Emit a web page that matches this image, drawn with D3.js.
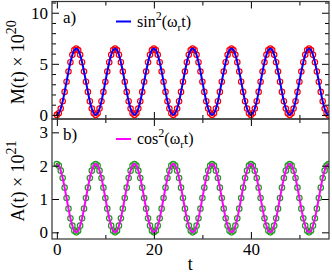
<!DOCTYPE html>
<html>
<head>
<meta charset="utf-8">
<script src="https://cdn.jsdelivr.net/npm/d3@7"></script>
<style>
body { margin: 0; background: #fff; }
svg { display: block; font-family: "Liberation Serif", "DejaVu Serif", serif; }
.axis path { display: none; }
.axis line { stroke: #000; }
.axis text { font-family: "Liberation Serif", serif; font-size: 17px; fill: #000; }
</style>
</head>
<body>
<svg width="332" height="273"></svg>
<script>
let width = 332,
    height = 273;

// sampling step of the data (t units)
let dt = 0.4;

// M(t) x 10^20, circles read from panel a)
let mValues = [
    0.00, 0.16, 0.62, 1.34, 2.25, 3.25, 4.25, 5.16, 5.88, 6.34, 6.50, 6.34, 5.88, 5.16, 4.25, 3.25, 2.25, 1.34, 0.62, 0.16,
    0.00, 0.16, 0.62, 1.34, 2.25, 3.25, 4.25, 5.16, 5.88, 6.34, 6.50, 6.34, 5.88, 5.16, 4.25, 3.25, 2.25, 1.34, 0.62, 0.16,
    0.00, 0.16, 0.62, 1.34, 2.25, 3.25, 4.25, 5.16, 5.88, 6.34, 6.50, 6.34, 5.88, 5.16, 4.25, 3.25, 2.25, 1.34, 0.62, 0.16,
    0.00, 0.16, 0.62, 1.34, 2.25, 3.25, 4.25, 5.16, 5.88, 6.34, 6.50, 6.34, 5.88, 5.16, 4.25, 3.25, 2.25, 1.34, 0.62, 0.16,
    0.00, 0.16, 0.62, 1.34, 2.25, 3.25, 4.25, 5.16, 5.88, 6.34, 6.50, 6.34, 5.88, 5.16, 4.25, 3.25, 2.25, 1.34, 0.62, 0.16,
    0.00, 0.16, 0.62, 1.34, 2.25, 3.25, 4.25, 5.16, 5.88, 6.34, 6.50, 6.34, 5.88, 5.16, 4.25, 3.25, 2.25, 1.34, 0.62, 0.16,
    0.00, 0.16, 0.62, 1.34, 2.25, 3.25, 4.25, 5.16, 5.88, 6.34, 6.50, 6.34, 5.88, 5.16, 4.25, 3.25, 2.25, 1.34, 0.62, 0.16,
    0.00
];

// A(t) x 10^21, circles read from panel b)
let aValues = [
    2.05, 2.00, 1.85, 1.63, 1.34, 1.03, 0.71, 0.42, 0.20, 0.05, 0.00, 0.05, 0.20, 0.42, 0.71, 1.03, 1.34, 1.63, 1.85, 2.00,
    2.05, 2.00, 1.85, 1.63, 1.34, 1.03, 0.71, 0.42, 0.20, 0.05, 0.00, 0.05, 0.20, 0.42, 0.71, 1.03, 1.34, 1.63, 1.85, 2.00,
    2.05, 2.00, 1.85, 1.63, 1.34, 1.03, 0.71, 0.42, 0.20, 0.05, 0.00, 0.05, 0.20, 0.42, 0.71, 1.03, 1.34, 1.63, 1.85, 2.00,
    2.05, 2.00, 1.85, 1.63, 1.34, 1.03, 0.71, 0.42, 0.20, 0.05, 0.00, 0.05, 0.20, 0.42, 0.71, 1.03, 1.34, 1.63, 1.85, 2.00,
    2.05, 2.00, 1.85, 1.63, 1.34, 1.03, 0.71, 0.42, 0.20, 0.05, 0.00, 0.05, 0.20, 0.42, 0.71, 1.03, 1.34, 1.63, 1.85, 2.00,
    2.05, 2.00, 1.85, 1.63, 1.34, 1.03, 0.71, 0.42, 0.20, 0.05, 0.00, 0.05, 0.20, 0.42, 0.71, 1.03, 1.34, 1.63, 1.85, 2.00,
    2.05, 2.00, 1.85, 1.63, 1.34, 1.03, 0.71, 0.42, 0.20, 0.05, 0.00, 0.05, 0.20, 0.42, 0.71, 1.03, 1.34, 1.63, 1.85, 2.00,
    2.05
];

let xMajor = [0, 20, 40],
    xMinor = [10, 30, 50],
    mMajor = [0, 5, 10],
    mMinor = [1, 2, 3, 4, 6, 7, 8, 9, 11],
    aMajor = [0, 1, 2, 3];

let left = 52, right = 329;
let panels = [
    {name: "a)", values: mValues, top: 1.5, bottom: 119, domain: [-0.4, 11.1], major: mMajor, minor: mMinor,
     dot: "#ff0000", line: "#0000ff", fn: "sin", exp: "20", ylab: "M(t)"},
    {name: "b)", values: aValues, top: 119, bottom: 239, domain: [-0.2, 3.4], major: aMajor, minor: [],
     dot: "#1f9a1f", line: "#ff00ff", fn: "cos", exp: "21", ylab: "A(t)"}
];

let svg = d3.select("svg");

let x = d3.scaleLinear().domain([-1, 56.1]).range([left, right]);

panels.forEach((p, i) => {
    let y = d3.scaleLinear().domain(p.domain).range([p.bottom, p.top]);
    let pts = p.values.map((v, k) => ({t: k * dt, v: v}));

    svg.append("clipPath").attr("id", "clip" + i)
        .append("rect")
        .attr("x", left).attr("y", p.top)
        .attr("width", right - left).attr("height", p.bottom - p.top);

    let g = svg.append("g").attr("clip-path", "url(#clip" + i + ")");

    g.selectAll("circle")
        .data(pts)
        .enter().append("circle")
        .attr("cx", d => x(d.t))
        .attr("cy", d => y(d.v))
        .attr("r", 2.7)
        .attr("fill", "none")
        .attr("stroke", p.dot)
        .attr("stroke-width", 1.2);

    g.append("path")
        .datum(pts)
        .attr("fill", "none")
        .attr("stroke", p.line)
        .attr("stroke-width", 2)
        .attr("d", d3.line().x(d => x(d.t)).y(d => y(d.v)).curve(d3.curveCatmullRom));

    // ticks, all pointing inward
    let addAxis = (axis, tr, vals, size, labels) => {
        svg.append("g")
            .attr("class", "axis")
            .attr("transform", tr)
            .call(axis.tickValues(vals).tickSize(-size).tickPadding(labels ? 4 : 0)
                .tickFormat(labels ? d3.format("d") : ""));
    };
    addAxis(d3.axisLeft(y), `translate(${left},0)`, p.major, 7, true);
    addAxis(d3.axisLeft(y), `translate(${left},0)`, p.minor, 4, false);
    addAxis(d3.axisRight(y), `translate(${right},0)`, p.major, 7, false);
    addAxis(d3.axisRight(y), `translate(${right},0)`, p.minor, 4, false);
    addAxis(d3.axisBottom(x), `translate(0,${p.bottom})`, xMajor, 7, i === 1);
    addAxis(d3.axisBottom(x), `translate(0,${p.bottom})`, xMinor, 4, false);
    addAxis(d3.axisTop(x), `translate(0,${p.top})`, xMajor, 7, false);
    addAxis(d3.axisTop(x), `translate(0,${p.top})`, xMinor, 4, false);

    svg.append("rect")
        .attr("x", left).attr("y", p.top)
        .attr("width", right - left).attr("height", p.bottom - p.top)
        .attr("fill", "none")
        .attr("stroke", "#333")
        .attr("stroke-width", 1.2);

    // panel tag
    svg.append("text")
        .attr("x", 63).attr("y", p.top + 21)
        .attr("font-size", 17)
        .text(p.name);

    // legend
    let ly = p.top + 20;
    svg.append("line")
        .attr("x1", 116).attr("x2", 131)
        .attr("y1", ly).attr("y2", ly)
        .attr("stroke", p.line).attr("stroke-width", 2);
    let lt = svg.append("text")
        .attr("x", 137).attr("y", ly + 5)
        .attr("font-size", 16);
    lt.append("tspan").text(p.fn);
    lt.append("tspan").attr("dy", -7).attr("font-size", 12).text("2");
    lt.append("tspan").attr("dy", 7).text("(ω");
    lt.append("tspan").attr("dy", 4).attr("font-size", 11).text("r");
    lt.append("tspan").attr("dy", -4).text("t)");

    // y label
    let yt = svg.append("text")
        .attr("transform", `translate(24,${(p.top + p.bottom) / 2 + 2}) rotate(-90)`)
        .attr("text-anchor", "middle")
        .attr("font-size", 18);
    yt.append("tspan").text(p.ylab + " × 10");
    yt.append("tspan").attr("dy", -8).attr("font-size", 14).text(p.exp);
});

svg.append("text")
    .attr("x", x(27.5)).attr("y", 270)
    .attr("text-anchor", "middle")
    .attr("font-size", 18)
    .text("t");
</script>
</body>
</html>
